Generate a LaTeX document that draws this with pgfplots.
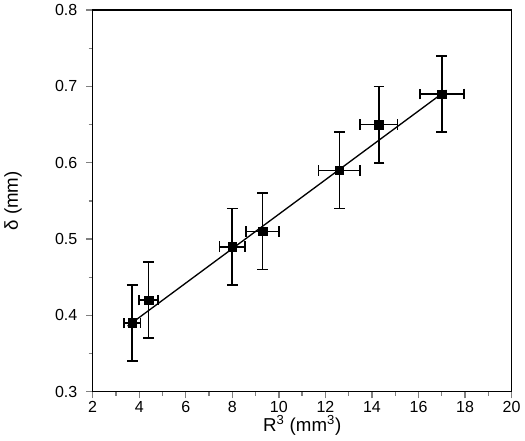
\documentclass[border=0pt]{standalone}
\usepackage{pgfplots}
\pgfplotsset{compat=1.18}
\usepackage{fontspec}
\setmainfont{Liberation Sans}
\begin{document}
\begin{tikzpicture}
\begin{axis}[
  scale only axis, width=314pt, height=286pt,
  xmin=2, xmax=20, ymin=0.3, ymax=0.8,
  xtick={2,4,...,20}, ytick={0.3,0.4,...,0.8},
  minor x tick num=1, minor y tick num=1,
  tick pos=left, tick align=outside,
  /pgf/number format/assume math mode=true,
  yticklabel style={/pgf/number format/fixed,/pgf/number format/precision=1,/pgf/number format/fixed zerofill, xshift=-3pt},
  xticklabel style={yshift=1pt},
  ticklabel style={font=\fontsize{12}{14}\selectfont},
  label style={font=\fontsize{14}{16}\selectfont},
  xlabel={R\textsuperscript{3} (mm\textsuperscript{3})}, ylabel={δ (mm)},
  xlabel style={yshift=5pt}, ylabel style={yshift=18pt},
  axis line style={line width=1pt}, major tick style={line width=1pt}, minor tick style={line width=1pt},
  major tick length=5pt, minor tick length=3pt,
]
\addplot[black, line width=1pt, no marks] coordinates {(3.5,0.386) (17.2,0.695)};
\addplot[black, only marks, mark=square*, mark size=3.2pt,
  error bars/.cd, x dir=both, y dir=both, x explicit, y explicit,
  error bar style={line width=1.3pt}, error mark options={rotate=90, mark size=4pt, line width=1.3pt}]
  coordinates {
  (3.7,0.39) +- (0.35,0.05)
  (4.4,0.42) +- (0.4,0.05)
  (8.0,0.49) +- (0.55,0.05)
  (9.3,0.51) +- (0.7,0.05)
  (12.6,0.59) +- (0.9,0.05)
  (14.3,0.65) +- (0.8,0.05)
  (17.0,0.69) +- (0.95,0.05)
  };
\end{axis}
\end{tikzpicture}
\end{document}
